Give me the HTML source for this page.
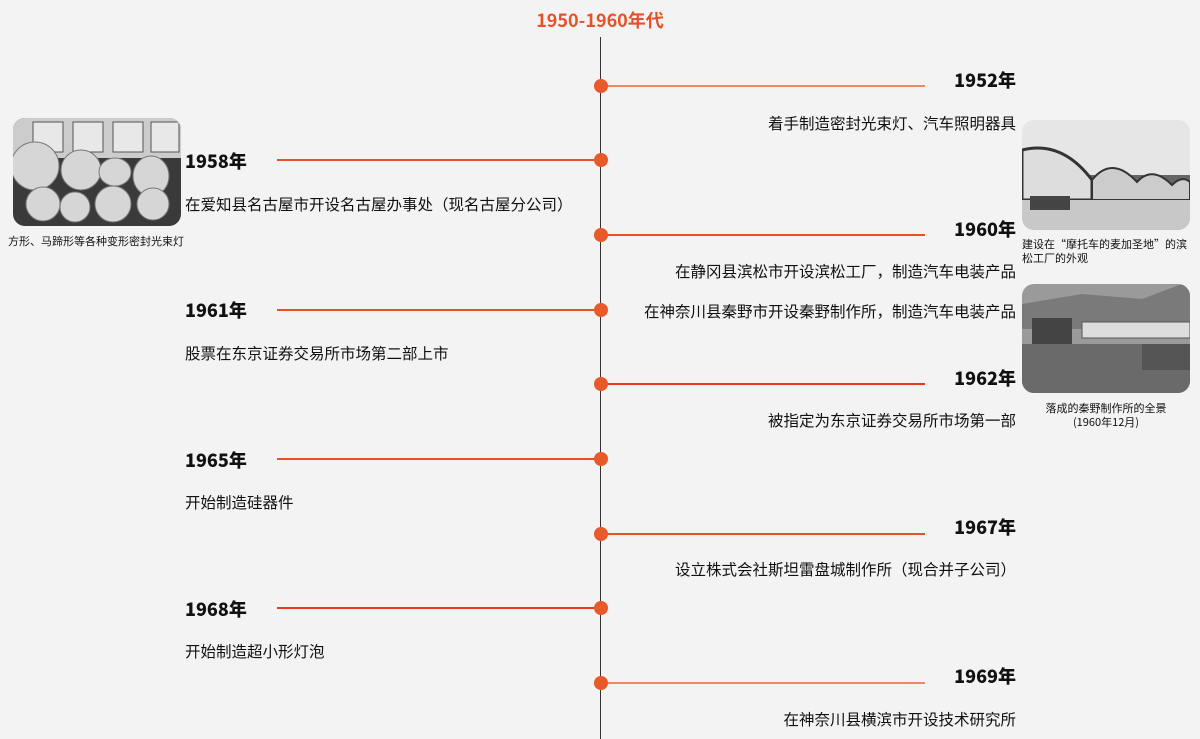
<!DOCTYPE html>
<html><head><meta charset="utf-8"><style>
body{margin:0;width:1200px;height:739px;background:#f3f3f3;position:relative;overflow:hidden;font-family:"Liberation Sans","Noto Sans CJK SC",sans-serif;color:#111}
.a{position:absolute;white-space:nowrap}
.y{font-weight:900;font-size:18px;line-height:20px;font-family:"Noto Sans CJK SC",sans-serif;color:#111}
.d{font-size:15.5px;line-height:20px;font-family:"Noto Sans CJK SC",sans-serif}
.r{right:184px;text-align:right}
.l{left:185px}
.ln{position:absolute;height:1.5px;background:#e8502a}
.dot{position:absolute;left:594px;width:14px;height:14px;border-radius:50%;background:#e85a2a}
.cap{font-size:11px;line-height:14px;font-family:"Noto Sans CJK SC",sans-serif}
.ph{position:absolute;border-radius:12px;overflow:hidden}
</style></head><body>
<div class="a" style="left:0;width:1200px;text-align:center;top:7px;font-size:18px;font-weight:bold;color:#e8502a;font-family:'Noto Sans CJK SC',sans-serif">1950-1960年代</div>
<div style="position:absolute;left:600px;top:37px;width:1px;height:702px;background:#333"></div>

<div class="ln" style="left:601px;width:324px;top:85px;background:#ec8a68"></div><div class="dot" style="top:79px"></div>
<div class="a y r" style="top:70px">1952年</div><div class="a d r" style="top:113px">着手制造密封光束灯、汽车照明器具</div>

<div class="ln" style="left:277px;width:324px;top:159px"></div><div class="dot" style="top:153px"></div>
<div class="a y l" style="top:151px">1958年</div><div class="a d l" style="top:194px">在爱知县名古屋市开设名古屋办事处（现名古屋分公司）</div>

<div class="ln" style="left:601px;width:324px;top:234px"></div><div class="dot" style="top:228px"></div>
<div class="a y r" style="top:219px">1960年</div><div class="a d r" style="top:261px">在静冈县滨松市开设滨松工厂，制造汽车电装产品</div>

<div class="ln" style="left:277px;width:324px;top:309px"></div><div class="dot" style="top:303px"></div>
<div class="a d r" style="top:301px">在神奈川县秦野市开设秦野制作所，制造汽车电装产品</div>
<div class="a y l" style="top:300px">1961年</div><div class="a d l" style="top:343px">股票在东京证券交易所市场第二部上市</div>

<div class="ln" style="left:601px;width:324px;top:383px;background:#e83a1a"></div><div class="dot" style="top:377px"></div>
<div class="a y r" style="top:368px">1962年</div><div class="a d r" style="top:410px">被指定为东京证券交易所市场第一部</div>

<div class="ln" style="left:277px;width:324px;top:458px"></div><div class="dot" style="top:452px"></div>
<div class="a y l" style="top:450px">1965年</div><div class="a d l" style="top:492px">开始制造硅器件</div>

<div class="ln" style="left:601px;width:324px;top:533px"></div><div class="dot" style="top:527px"></div>
<div class="a y r" style="top:517px">1967年</div><div class="a d r" style="top:559px">设立株式会社斯坦雷盘城制作所（现合并子公司）</div>

<div class="ln" style="left:277px;width:324px;top:607px;background:#e83a1a"></div><div class="dot" style="top:601px"></div>
<div class="a y l" style="top:599px">1968年</div><div class="a d l" style="top:641px">开始制造超小形灯泡</div>

<div class="ln" style="left:601px;width:324px;top:682px;background:#ec8a68"></div><div class="dot" style="top:676px"></div>
<div class="a y r" style="top:666px">1969年</div><div class="a d r" style="top:709px">在神奈川县横滨市开设技术研究所</div>

<div class="ph" style="left:13px;top:118px;width:168px;height:108px;background:#3a3a3a">
<svg width="168" height="108"><rect width="168" height="40" fill="#ccc"/>
<g fill="#e8e8e8" stroke="#555"><rect x="20" y="4" width="30" height="30"/><rect x="60" y="4" width="30" height="30"/><rect x="100" y="4" width="30" height="30"/><rect x="138" y="4" width="28" height="30"/></g>
<g fill="#d6d6d6" stroke="#777"><circle cx="22" cy="48" r="24"/><circle cx="68" cy="52" r="20"/><ellipse cx="102" cy="54" rx="16" ry="14"/><ellipse cx="138" cy="58" rx="18" ry="20"/><circle cx="30" cy="86" r="17"/><circle cx="62" cy="89" r="15"/><ellipse cx="100" cy="86" rx="18" ry="18"/><ellipse cx="140" cy="86" rx="16" ry="16"/></g></svg></div>
<div class="a cap" style="left:8px;top:234px">方形、马蹄形等各种变形密封光束灯</div>

<div class="ph" style="left:1022px;top:120px;width:168px;height:110px;background:#e6e6e6">
<svg width="168" height="110"><rect y="55" width="168" height="20" fill="#666"/><path d="M0 30 Q40 20 70 60 L70 80 L0 80Z" fill="#ddd" stroke="#333" stroke-width="3"/><path d="M70 60 Q90 35 115 62 Q130 45 150 65 Q160 55 168 62 L168 80 L70 80Z" fill="#ccc" stroke="#333" stroke-width="2"/><rect x="0" y="80" width="168" height="30" fill="#c8c8c8"/><rect x="8" y="76" width="40" height="14" fill="#444"/></svg></div>
<div class="a cap" style="left:1022px;top:237px">建设在“摩托车的麦加圣地”的滨<br>松工厂的外观</div>

<div class="ph" style="left:1022px;top:284px;width:168px;height:109px;background:#9a9a9a">
<svg width="168" height="109"><path d="M0 20 L60 10 L120 15 L160 0 L168 0 L168 45 L0 45Z" fill="#7a7a7a"/><rect x="60" y="38" width="108" height="16" fill="#ddd" stroke="#555"/><rect x="10" y="34" width="40" height="36" fill="#444"/><rect x="0" y="60" width="168" height="49" fill="#6a6a6a"/><rect x="120" y="60" width="48" height="26" fill="#555"/></svg></div>
<div class="a cap" style="left:1022px;top:401px;width:168px;text-align:center">落成的秦野制作所的全景<br>(1960年12月)</div>
</body></html>
